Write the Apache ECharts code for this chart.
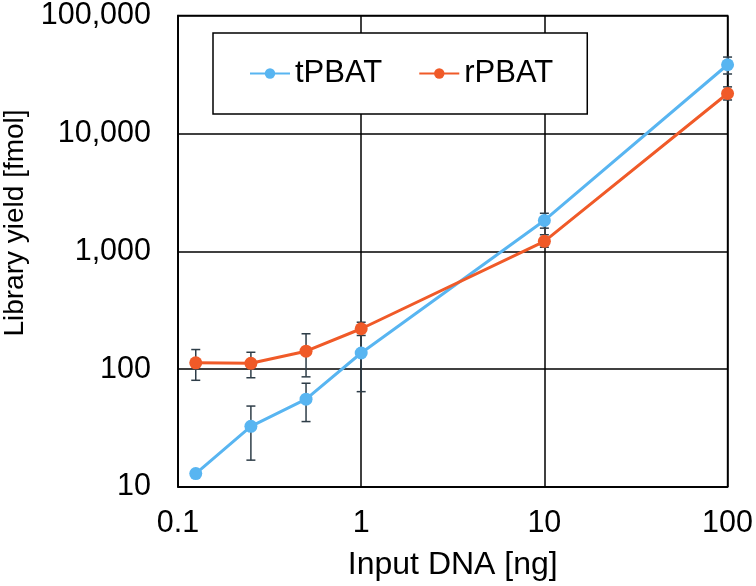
<!DOCTYPE html>
<html><head><meta charset="utf-8">
<script src="https://cdn.jsdelivr.net/npm/echarts@6/dist/echarts.min.js"></script>
<style>html,body{margin:0;padding:0;background:#fff}#c{width:756px;height:586px}</style>
</head><body><div id="c"></div>
<script>
var inputDNA = [0.125, 0.25, 0.5, 1, 10, 100];
var tPBAT = [13, 32.7, 55.6, 137, 1824, 38200];
var tPBATLow = [12.5, 16.9, 35.9, 64.4, 1570, 31900];
var tPBATHigh = [13.5, 48.6, 75.9, 210, 2100, 44400];
var rPBAT = [113, 112, 142, 220, 1213, 21800];
var rPBATLow = [80.4, 84.5, 86, 193, 1082, 19200];
var rPBATHigh = [146.6, 139, 199.5, 250, 1380, 24800];
var xTicks = [0.1, 1, 10, 100];
var yTicks = [10, 100, 1000, 10000, 100000];

var blue = '#58B5F1', orange = '#F05A28', errColor = '#2E3D48';
var font = 'Liberation Sans, Arial, sans-serif';

function errData(vals, lo, hi) {
  return inputDNA.map(function (x, i) { return [x, lo[i], hi[i]]; });
}
function errRender(params, api) {
  var x = api.value(0);
  var p1 = api.coord([x, api.value(1)]);
  var p2 = api.coord([x, api.value(2)]);
  var w = 4.5;
  var st = { stroke: errColor, lineWidth: 1.5 };
  return { type: 'group', children: [
    { type: 'line', shape: { x1: p1[0], y1: p1[1], x2: p2[0], y2: p2[1] }, style: st },
    { type: 'line', shape: { x1: p1[0] - w, y1: p1[1], x2: p1[0] + w, y2: p1[1] }, style: st },
    { type: 'line', shape: { x1: p2[0] - w, y1: p2[1], x2: p2[0] + w, y2: p2[1] }, style: st }
  ]};
}

var chart = echarts.init(document.getElementById('c'), null, { renderer: 'canvas' });
chart.setOption({
  animation: false,
  backgroundColor: '#fff',
  textStyle: { fontFamily: font },
  grid: { left: 178, right: 25, top: 12, bottom: 98, show: true, borderColor: '#000', borderWidth: 1.5, backgroundColor: 'transparent' },
  legend: {
    left: 213, top: 33,
    data: ['tPBAT', 'rPBAT'],
    backgroundColor: '#fff', borderColor: '#000', borderWidth: 1.5,
    padding: [25, 34, 25, 36], itemGap: 36, itemWidth: 40, itemHeight: 13,
    textStyle: { fontSize: 31, color: '#000', fontFamily: font }
  },
  xAxis: {
    type: 'log', logBase: 10, min: 0.1, max: 100,
    name: 'Input DNA [ng]', nameLocation: 'middle', nameGap: 62,
    nameTextStyle: { fontSize: 32, color: '#000', fontFamily: font },
    axisLine: { show: true, lineStyle: { color: '#000', width: 1.5 } },
    axisTick: { show: false },
    splitLine: { show: true, lineStyle: { color: '#000', width: 1.5 } },
    minorSplitLine: { show: false },
    axisLabel: { fontSize: 30.5, color: '#000', margin: 21, fontFamily: font,
      formatter: function (v) { return String(+v.toPrecision(3)); } }
  },
  yAxis: {
    type: 'log', logBase: 10, min: 10, max: 100000,
    axisLine: { show: true, lineStyle: { color: '#000', width: 1.5 } },
    axisTick: { show: false },
    splitLine: { show: true, lineStyle: { color: '#000', width: 1.5 } },
    axisLabel: { fontSize: 30.5, color: '#000', margin: 27, fontFamily: font,
      formatter: function (v) { return Math.round(v).toLocaleString('en-US'); } }
  },
  graphic: [{
    type: 'text', x: 15, y: 223, rotation: Math.PI / 2,
    style: { text: 'Library yield [fmol]', font: '28px ' + font, fill: '#000', textAlign: 'center', textVerticalAlign: 'middle' }
  }],
  series: [
    { name: 'tPBAT', type: 'line', data: inputDNA.map(function (x, i) { return [x, tPBAT[i]]; }),
      color: blue, lineStyle: { width: 3, color: blue }, symbol: 'circle', symbolSize: 13, showSymbol: true,
      itemStyle: { color: blue }, z: 3 },
    { name: 'rPBAT', type: 'line', data: inputDNA.map(function (x, i) { return [x, rPBAT[i]]; }),
      color: orange, lineStyle: { width: 3, color: orange }, symbol: 'circle', symbolSize: 13, showSymbol: true,
      itemStyle: { color: orange }, z: 3 },
    { name: 'tErr', type: 'custom', renderItem: errRender, data: errData(tPBAT, tPBATLow, tPBATHigh),
      encode: { x: 0, y: [1, 2] }, z: 2, silent: true },
    { name: 'rErr', type: 'custom', renderItem: errRender, data: errData(rPBAT, rPBATLow, rPBATHigh),
      encode: { x: 0, y: [1, 2] }, z: 2, silent: true }
  ]
});
</script></body></html>
